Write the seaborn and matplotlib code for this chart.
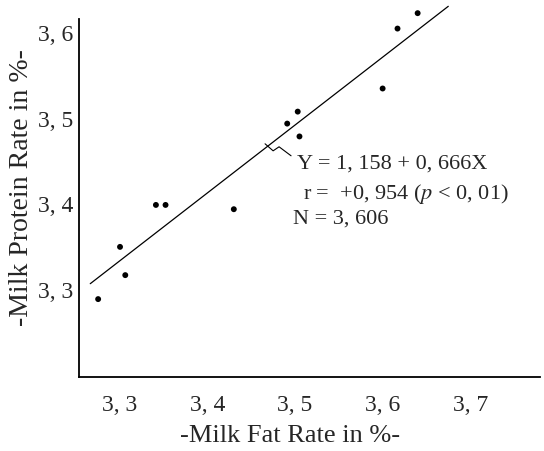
import matplotlib
matplotlib.use("Agg")
import matplotlib.pyplot as plt
import seaborn as sns
import pandas as pd

# Data
fat_rate = [3.275, 3.300, 3.306, 3.341, 3.352, 3.430, 3.491, 3.503, 3.505, 3.600, 3.617, 3.640]
protein_rate = [3.288, 3.349, 3.316, 3.398, 3.398, 3.393, 3.493, 3.507, 3.478, 3.534, 3.604, 3.622]

# Fitted line as drawn (end points)
line_x = [3.266, 3.675]
line_y = [3.306, 3.630]

x_ticks = [3.3, 3.4, 3.5, 3.6, 3.7]
x_tick_labels = ["3, 3", "3, 4", "3, 5", "3, 6", "3, 7"]
y_ticks = [3.3, 3.4, 3.5, 3.6]
y_tick_labels = ["3, 3", "3, 4", "3, 5", "3, 6"]

annot_lines = ["Y = 1, 158 + 0, 666X",
               "r =  +0, 954 ($p$ < 0, 01)",
               "N = 3, 606"]

sns.set_theme(style="white")
plt.rcParams["font.family"] = ["Liberation Serif", "DejaVu Serif"]
plt.rcParams["mathtext.fontset"] = "stix"

fig = plt.figure(figsize=(5.44, 4.52), dpi=100)
ax = fig.add_axes([0.145, 0.1637, 0.848, 0.8296])

df = pd.DataFrame({"fat": fat_rate, "protein": protein_rate})
sns.scatterplot(data=df, x="fat", y="protein", ax=ax, color="black", s=18, edgecolor="none")
sns.lineplot(x=line_x, y=line_y, ax=ax, color="black", linewidth=0.9)

ax.set_xlim(3.253, 3.78)
ax.set_ylim(3.197, 3.635)
ax.set_xticks(x_ticks)
ax.set_xticklabels(x_tick_labels, fontsize=17)
ax.set_yticks(y_ticks)
ax.set_yticklabels(y_tick_labels, fontsize=17)
ax.tick_params(axis="x", direction="in", length=3, width=0.8, color="black", pad=12)
ax.tick_params(axis="y", direction="out", length=3, width=0.8, color="black", pad=1)

for s in ["top", "right"]:
    ax.spines[s].set_visible(False)
for s in ["left", "bottom"]:
    ax.spines[s].set_color("black")
    ax.spines[s].set_linewidth(1.3)
ax.spines["left"].set_bounds(3.197, 3.615)

ax.set_xlabel("-Milk Fat Rate in %-", fontsize=19)
ax.xaxis.label.set_va("center")
ax.xaxis.set_label_coords(0.458, -0.155)
ax.set_ylabel("-Milk Protein Rate in %-", fontsize=20)
ax.yaxis.label.set_va("center")
ax.yaxis.set_label_coords(-0.124, 0.509)

# leader squiggle from regression line to annotation
ax.plot([3.4657, 3.4749, 3.4817, 3.4954], [3.4694, 3.4612, 3.4659, 3.4554],
        color="black", lw=0.8)

ax.text(3.5023, 3.4474, annot_lines[0], fontsize=16, va="center", ha="left")
ax.text(3.5091, 3.4123, annot_lines[1], fontsize=16, va="center", ha="left")
ax.text(3.4977, 3.3831, annot_lines[2], fontsize=16, va="center", ha="left")

fig.savefig("out.png", dpi=100)
